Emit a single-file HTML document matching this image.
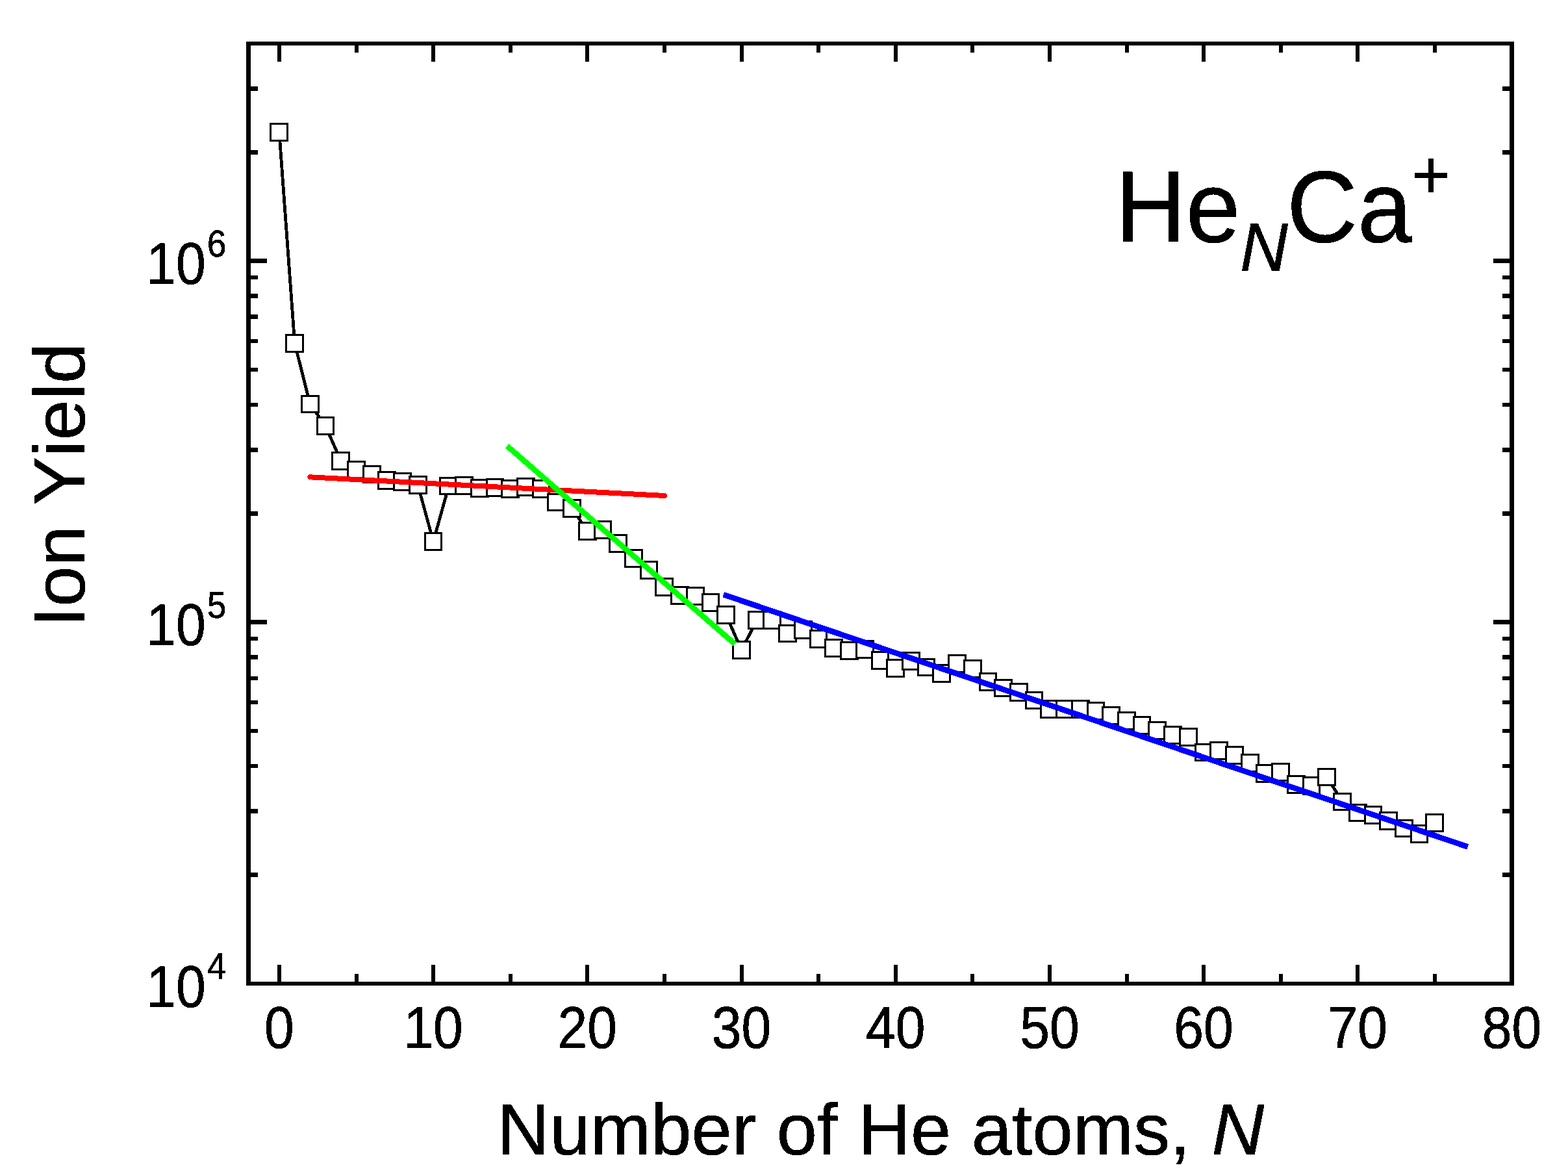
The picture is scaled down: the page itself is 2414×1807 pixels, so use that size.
<!DOCTYPE html>
<html lang="en">
<head>
<meta charset="utf-8">
<title>Ion Yield vs Number of He atoms</title>
<style>
html,body{margin:0;padding:0;background:#fff;}
body{width:2414px;height:1807px;}
svg{display:block;}
text{font-family:"Liberation Sans",sans-serif;fill:#000;stroke:#000;stroke-width:0.5px;stroke-linejoin:round;font-kerning:none;font-variant-ligatures:none;filter:url(#crisp);}
.i{font-style:italic;}
</style>
</head>
<body>
<svg width="2414" height="1807" viewBox="0 0 2414 1807" role="img" aria-label="Ion yield versus number of He atoms N for HeNCa+">
<rect x="0" y="0" width="2414" height="1807" fill="#fff"/>
<defs><filter id="crisp" x="-5%" y="-20%" width="110%" height="140%" color-interpolation-filters="sRGB"><feComponentTransfer><feFuncA type="discrete" tableValues="0 0 1 1 1"/></feComponentTransfer></filter></defs>
<g shape-rendering="crispEdges">
<polyline points="429.9,203.5 453.7,528.5 477.4,622.0 501.1,655.5 524.8,709.5 548.5,723.5 572.3,730.0 596.0,739.5 619.7,741.5 643.4,746.6 667.1,833.5 690.9,748.0 714.6,747.5 738.3,751.5 762.0,750.4 785.7,752.5 809.5,749.4 833.2,752.5 856.9,773.1 880.6,782.5 904.3,817.6 928.0,815.6 951.8,836.6 975.5,859.4 999.2,877.5 1022.9,903.5 1046.6,916.5 1070.4,917.7 1094.1,927.5 1117.8,946.5 1141.5,1000.4 1165.2,954.7 1189.0,954.6 1212.7,975.0 1236.4,969.2 1260.1,983.5 1283.8,997.5 1307.6,1001.5 1331.3,999.5 1355.0,1016.6 1378.7,1028.5 1402.4,1017.7 1426.2,1027.0 1449.9,1036.6 1473.6,1021.5 1497.3,1029.6 1521.0,1049.5 1544.8,1059.0 1568.5,1065.5 1592.2,1078.0 1615.9,1091.5 1639.6,1091.5 1663.4,1091.4 1687.1,1094.6 1710.8,1101.3 1734.5,1109.6 1758.2,1116.6 1782.0,1124.4 1805.7,1131.6 1829.4,1134.5 1853.1,1158.0 1876.8,1155.6 1900.5,1162.4 1924.3,1174.4 1948.0,1190.5 1971.7,1188.5 1995.4,1207.5 2019.1,1209.5 2042.9,1196.0 2066.6,1234.0 2090.3,1251.0 2114.0,1254.5 2137.7,1263.4 2161.5,1275.0 2185.2,1283.5 2208.9,1266.4" fill="none" stroke="#000" stroke-width="4.8" stroke-linejoin="round"/>
<rect x="415" y="189" width="29" height="29" fill="#000"/><rect x="418" y="192" width="23" height="23" fill="#fff"/>
<rect x="439" y="514" width="29" height="29" fill="#000"/><rect x="442" y="517" width="23" height="23" fill="#fff"/>
<rect x="463" y="608" width="29" height="28" fill="#000"/><rect x="466" y="611" width="23" height="22" fill="#fff"/>
<rect x="487" y="641" width="28" height="29" fill="#000"/><rect x="490" y="644" width="22" height="23" fill="#fff"/>
<rect x="510" y="695" width="29" height="29" fill="#000"/><rect x="513" y="698" width="23" height="23" fill="#fff"/>
<rect x="534" y="709" width="29" height="29" fill="#000"/><rect x="537" y="712" width="23" height="23" fill="#fff"/>
<rect x="558" y="716" width="29" height="28" fill="#000"/><rect x="561" y="719" width="23" height="22" fill="#fff"/>
<rect x="581" y="725" width="29" height="29" fill="#000"/><rect x="584" y="728" width="23" height="23" fill="#fff"/>
<rect x="605" y="727" width="29" height="29" fill="#000"/><rect x="608" y="730" width="23" height="23" fill="#fff"/>
<rect x="629" y="732" width="29" height="29" fill="#000"/><rect x="632" y="735" width="23" height="23" fill="#fff"/>
<rect x="653" y="819" width="28" height="29" fill="#000"/><rect x="656" y="822" width="22" height="23" fill="#fff"/>
<rect x="676" y="734" width="29" height="28" fill="#000"/><rect x="679" y="737" width="23" height="22" fill="#fff"/>
<rect x="700" y="733" width="29" height="29" fill="#000"/><rect x="703" y="736" width="23" height="23" fill="#fff"/>
<rect x="724" y="737" width="29" height="29" fill="#000"/><rect x="727" y="740" width="23" height="23" fill="#fff"/>
<rect x="748" y="736" width="28" height="29" fill="#000"/><rect x="751" y="739" width="22" height="23" fill="#fff"/>
<rect x="771" y="738" width="29" height="29" fill="#000"/><rect x="774" y="741" width="23" height="23" fill="#fff"/>
<rect x="795" y="735" width="29" height="29" fill="#000"/><rect x="798" y="738" width="23" height="23" fill="#fff"/>
<rect x="819" y="738" width="28" height="29" fill="#000"/><rect x="822" y="741" width="22" height="23" fill="#fff"/>
<rect x="842" y="759" width="29" height="28" fill="#000"/><rect x="845" y="762" width="23" height="22" fill="#fff"/>
<rect x="866" y="768" width="29" height="29" fill="#000"/><rect x="869" y="771" width="23" height="23" fill="#fff"/>
<rect x="890" y="803" width="29" height="29" fill="#000"/><rect x="893" y="806" width="23" height="23" fill="#fff"/>
<rect x="914" y="801" width="28" height="29" fill="#000"/><rect x="917" y="804" width="22" height="23" fill="#fff"/>
<rect x="937" y="822" width="29" height="29" fill="#000"/><rect x="940" y="825" width="23" height="23" fill="#fff"/>
<rect x="961" y="845" width="29" height="29" fill="#000"/><rect x="964" y="848" width="23" height="23" fill="#fff"/>
<rect x="985" y="863" width="28" height="29" fill="#000"/><rect x="988" y="866" width="22" height="23" fill="#fff"/>
<rect x="1008" y="889" width="29" height="29" fill="#000"/><rect x="1011" y="892" width="23" height="23" fill="#fff"/>
<rect x="1032" y="902" width="29" height="29" fill="#000"/><rect x="1035" y="905" width="23" height="23" fill="#fff"/>
<rect x="1056" y="903" width="29" height="29" fill="#000"/><rect x="1059" y="906" width="23" height="23" fill="#fff"/>
<rect x="1080" y="913" width="28" height="29" fill="#000"/><rect x="1083" y="916" width="22" height="23" fill="#fff"/>
<rect x="1103" y="932" width="29" height="29" fill="#000"/><rect x="1106" y="935" width="23" height="23" fill="#fff"/>
<rect x="1127" y="986" width="29" height="29" fill="#000"/><rect x="1130" y="989" width="23" height="23" fill="#fff"/>
<rect x="1151" y="940" width="28" height="29" fill="#000"/><rect x="1154" y="943" width="22" height="23" fill="#fff"/>
<rect x="1174" y="940" width="29" height="29" fill="#000"/><rect x="1177" y="943" width="23" height="23" fill="#fff"/>
<rect x="1198" y="961" width="29" height="28" fill="#000"/><rect x="1201" y="964" width="23" height="22" fill="#fff"/>
<rect x="1222" y="955" width="29" height="29" fill="#000"/><rect x="1225" y="958" width="23" height="23" fill="#fff"/>
<rect x="1246" y="969" width="28" height="29" fill="#000"/><rect x="1249" y="972" width="22" height="23" fill="#fff"/>
<rect x="1269" y="983" width="29" height="29" fill="#000"/><rect x="1272" y="986" width="23" height="23" fill="#fff"/>
<rect x="1293" y="987" width="29" height="29" fill="#000"/><rect x="1296" y="990" width="23" height="23" fill="#fff"/>
<rect x="1317" y="985" width="29" height="29" fill="#000"/><rect x="1320" y="988" width="23" height="23" fill="#fff"/>
<rect x="1341" y="1002" width="28" height="29" fill="#000"/><rect x="1344" y="1005" width="22" height="23" fill="#fff"/>
<rect x="1364" y="1014" width="29" height="29" fill="#000"/><rect x="1367" y="1017" width="23" height="23" fill="#fff"/>
<rect x="1388" y="1003" width="29" height="29" fill="#000"/><rect x="1391" y="1006" width="23" height="23" fill="#fff"/>
<rect x="1412" y="1013" width="28" height="28" fill="#000"/><rect x="1415" y="1016" width="22" height="22" fill="#fff"/>
<rect x="1435" y="1022" width="29" height="29" fill="#000"/><rect x="1438" y="1025" width="23" height="23" fill="#fff"/>
<rect x="1459" y="1007" width="29" height="29" fill="#000"/><rect x="1462" y="1010" width="23" height="23" fill="#fff"/>
<rect x="1483" y="1015" width="29" height="29" fill="#000"/><rect x="1486" y="1018" width="23" height="23" fill="#fff"/>
<rect x="1507" y="1035" width="28" height="29" fill="#000"/><rect x="1510" y="1038" width="22" height="23" fill="#fff"/>
<rect x="1530" y="1045" width="29" height="28" fill="#000"/><rect x="1533" y="1048" width="23" height="22" fill="#fff"/>
<rect x="1554" y="1051" width="29" height="29" fill="#000"/><rect x="1557" y="1054" width="23" height="23" fill="#fff"/>
<rect x="1578" y="1064" width="28" height="28" fill="#000"/><rect x="1581" y="1067" width="22" height="22" fill="#fff"/>
<rect x="1601" y="1077" width="29" height="29" fill="#000"/><rect x="1604" y="1080" width="23" height="23" fill="#fff"/>
<rect x="1625" y="1077" width="29" height="29" fill="#000"/><rect x="1628" y="1080" width="23" height="23" fill="#fff"/>
<rect x="1649" y="1077" width="29" height="29" fill="#000"/><rect x="1652" y="1080" width="23" height="23" fill="#fff"/>
<rect x="1673" y="1080" width="28" height="29" fill="#000"/><rect x="1676" y="1083" width="22" height="23" fill="#fff"/>
<rect x="1696" y="1087" width="29" height="29" fill="#000"/><rect x="1699" y="1090" width="23" height="23" fill="#fff"/>
<rect x="1720" y="1095" width="29" height="29" fill="#000"/><rect x="1723" y="1098" width="23" height="23" fill="#fff"/>
<rect x="1744" y="1102" width="28" height="29" fill="#000"/><rect x="1747" y="1105" width="22" height="23" fill="#fff"/>
<rect x="1767" y="1110" width="29" height="29" fill="#000"/><rect x="1770" y="1113" width="23" height="23" fill="#fff"/>
<rect x="1791" y="1117" width="29" height="29" fill="#000"/><rect x="1794" y="1120" width="23" height="23" fill="#fff"/>
<rect x="1815" y="1120" width="29" height="29" fill="#000"/><rect x="1818" y="1123" width="23" height="23" fill="#fff"/>
<rect x="1839" y="1144" width="28" height="28" fill="#000"/><rect x="1842" y="1147" width="22" height="22" fill="#fff"/>
<rect x="1862" y="1141" width="29" height="29" fill="#000"/><rect x="1865" y="1144" width="23" height="23" fill="#fff"/>
<rect x="1886" y="1148" width="29" height="29" fill="#000"/><rect x="1889" y="1151" width="23" height="23" fill="#fff"/>
<rect x="1910" y="1160" width="29" height="29" fill="#000"/><rect x="1913" y="1163" width="23" height="23" fill="#fff"/>
<rect x="1933" y="1176" width="29" height="29" fill="#000"/><rect x="1936" y="1179" width="23" height="23" fill="#fff"/>
<rect x="1957" y="1174" width="29" height="29" fill="#000"/><rect x="1960" y="1177" width="23" height="23" fill="#fff"/>
<rect x="1981" y="1193" width="29" height="29" fill="#000"/><rect x="1984" y="1196" width="23" height="23" fill="#fff"/>
<rect x="2005" y="1195" width="28" height="29" fill="#000"/><rect x="2008" y="1198" width="22" height="23" fill="#fff"/>
<rect x="2028" y="1182" width="29" height="28" fill="#000"/><rect x="2031" y="1185" width="23" height="22" fill="#fff"/>
<rect x="2052" y="1220" width="29" height="28" fill="#000"/><rect x="2055" y="1223" width="23" height="22" fill="#fff"/>
<rect x="2076" y="1237" width="29" height="28" fill="#000"/><rect x="2079" y="1240" width="23" height="22" fill="#fff"/>
<rect x="2100" y="1240" width="28" height="29" fill="#000"/><rect x="2103" y="1243" width="22" height="23" fill="#fff"/>
<rect x="2123" y="1249" width="29" height="29" fill="#000"/><rect x="2126" y="1252" width="23" height="23" fill="#fff"/>
<rect x="2147" y="1261" width="29" height="28" fill="#000"/><rect x="2150" y="1264" width="23" height="22" fill="#fff"/>
<rect x="2171" y="1269" width="28" height="29" fill="#000"/><rect x="2174" y="1272" width="22" height="23" fill="#fff"/>
<rect x="2194" y="1252" width="29" height="29" fill="#000"/><rect x="2197" y="1255" width="23" height="23" fill="#fff"/>
<g stroke-width="8" stroke-linecap="square" fill="none">
<line x1="477.4" y1="734.3" x2="1022.9" y2="763.0" stroke="#f00" stroke-linecap="round"/>
<line x1="783.9" y1="689.2" x2="1128.2" y2="988.5" stroke="#0f0" stroke-width="8.6"/>
<line x1="1117.9" y1="916.6" x2="2255.6" y2="1302.0" stroke="#00f" stroke-width="8.7"/>
</g>
<rect x="379" y="64" width="1952" height="6"/>
<rect x="379" y="1511" width="1952" height="6"/>
<rect x="379" y="64" width="7" height="1453"/>
<rect x="2324" y="64" width="7" height="1453"/>
<rect x="427" y="1485" width="6" height="26"/><rect x="427" y="70" width="6" height="25"/>
<rect x="546" y="1499" width="6" height="12"/><rect x="546" y="70" width="6" height="11"/>
<rect x="664" y="1485" width="6" height="26"/><rect x="664" y="70" width="6" height="25"/>
<rect x="783" y="1499" width="6" height="12"/><rect x="783" y="70" width="6" height="11"/>
<rect x="901" y="1485" width="6" height="26"/><rect x="901" y="70" width="6" height="25"/>
<rect x="1020" y="1499" width="6" height="12"/><rect x="1020" y="70" width="6" height="11"/>
<rect x="1139" y="1485" width="6" height="26"/><rect x="1139" y="70" width="6" height="25"/>
<rect x="1257" y="1499" width="6" height="12"/><rect x="1257" y="70" width="6" height="11"/>
<rect x="1376" y="1485" width="6" height="26"/><rect x="1376" y="70" width="6" height="25"/>
<rect x="1494" y="1499" width="6" height="12"/><rect x="1494" y="70" width="6" height="11"/>
<rect x="1613" y="1485" width="6" height="26"/><rect x="1613" y="70" width="6" height="25"/>
<rect x="1732" y="1499" width="6" height="12"/><rect x="1732" y="70" width="6" height="11"/>
<rect x="1850" y="1485" width="6" height="26"/><rect x="1850" y="70" width="6" height="25"/>
<rect x="1969" y="1499" width="6" height="12"/><rect x="1969" y="70" width="6" height="11"/>
<rect x="2087" y="1485" width="6" height="26"/><rect x="2087" y="70" width="6" height="25"/>
<rect x="2206" y="1499" width="6" height="12"/><rect x="2206" y="70" width="6" height="11"/>
<rect x="386" y="1343" width="11" height="7"/><rect x="2313" y="1343" width="11" height="7"/>
<rect x="386" y="1245" width="11" height="7"/><rect x="2313" y="1245" width="11" height="7"/>
<rect x="386" y="1176" width="11" height="6"/><rect x="2313" y="1176" width="11" height="6"/>
<rect x="386" y="1122" width="11" height="6"/><rect x="2313" y="1122" width="11" height="6"/>
<rect x="386" y="1078" width="11" height="6"/><rect x="2313" y="1078" width="11" height="6"/>
<rect x="386" y="1041" width="11" height="6"/><rect x="2313" y="1041" width="11" height="6"/>
<rect x="386" y="1008" width="11" height="7"/><rect x="2313" y="1008" width="11" height="7"/>
<rect x="386" y="980" width="11" height="6"/><rect x="2313" y="980" width="11" height="6"/>
<rect x="386" y="954" width="25" height="7"/><rect x="2299" y="954" width="25" height="7"/>
<rect x="386" y="787" width="11" height="7"/><rect x="2313" y="787" width="11" height="7"/>
<rect x="386" y="689" width="11" height="7"/><rect x="2313" y="689" width="11" height="7"/>
<rect x="386" y="620" width="11" height="6"/><rect x="2313" y="620" width="11" height="6"/>
<rect x="386" y="566" width="11" height="6"/><rect x="2313" y="566" width="11" height="6"/>
<rect x="386" y="522" width="11" height="6"/><rect x="2313" y="522" width="11" height="6"/>
<rect x="386" y="484" width="11" height="7"/><rect x="2313" y="484" width="11" height="7"/>
<rect x="386" y="452" width="11" height="7"/><rect x="2313" y="452" width="11" height="7"/>
<rect x="386" y="424" width="11" height="6"/><rect x="2313" y="424" width="11" height="6"/>
<rect x="386" y="398" width="25" height="7"/><rect x="2299" y="398" width="25" height="7"/>
<rect x="386" y="231" width="11" height="7"/><rect x="2313" y="231" width="11" height="7"/>
<rect x="386" y="133" width="11" height="7"/><rect x="2313" y="133" width="11" height="7"/>
</g>
<text transform="translate(429.94 1613.00) scale(0.94 1.04)" font-size="87.5" text-anchor="middle">0</text>
<text transform="translate(667.13 1613.00) scale(0.94 1.04)" font-size="87.5" text-anchor="middle">10</text>
<text transform="translate(904.33 1613.00) scale(0.94 1.04)" font-size="87.5" text-anchor="middle">20</text>
<text transform="translate(1141.53 1613.00) scale(0.94 1.04)" font-size="87.5" text-anchor="middle">30</text>
<text transform="translate(1378.72 1613.00) scale(0.94 1.04)" font-size="87.5" text-anchor="middle">40</text>
<text transform="translate(1615.91 1613.00) scale(0.94 1.04)" font-size="87.5" text-anchor="middle">50</text>
<text transform="translate(1853.11 1613.00) scale(0.94 1.04)" font-size="87.5" text-anchor="middle">60</text>
<text transform="translate(2090.30 1613.00) scale(0.94 1.04)" font-size="87.5" text-anchor="middle">70</text>
<text transform="translate(2327.50 1613.00) scale(0.94 1.04)" font-size="87.5" text-anchor="middle">80</text>
<text transform="translate(225.30 1549.50) scale(0.94 1.04)" font-size="87.5">10<tspan font-size="56" dy="-40.6" dx="2.5">4</tspan></text>
<text transform="translate(225.30 993.40) scale(0.94 1.04)" font-size="87.5">10<tspan font-size="56" dy="-40.6" dx="2.5">5</tspan></text>
<text transform="translate(225.30 437.30) scale(0.94 1.04)" font-size="87.5">10<tspan font-size="56" dy="-40.6" dx="2.5">6</tspan></text>
<text transform="translate(765.50 1777.00) scale(1 1.0)" font-size="111.7" letter-spacing="0.3">Number of He atoms, <tspan class="i" dx="1.5">N</tspan></text>
<text transform="translate(130.1 965.0) rotate(-90) scale(1 1.0)" font-size="111.7" letter-spacing="0.3">Ion Yield</text>
<text transform="translate(1716.80 372.10) scale(1 1.035)" font-size="151">He<tspan class="i" font-size="102" dy="43.3" dx="-0.5">N</tspan><tspan dy="-43.3" dx="-2">Ca</tspan><tspan font-size="102" dy="-65.3" dx="-1">+</tspan></text>
</svg>
</body>
</html>
